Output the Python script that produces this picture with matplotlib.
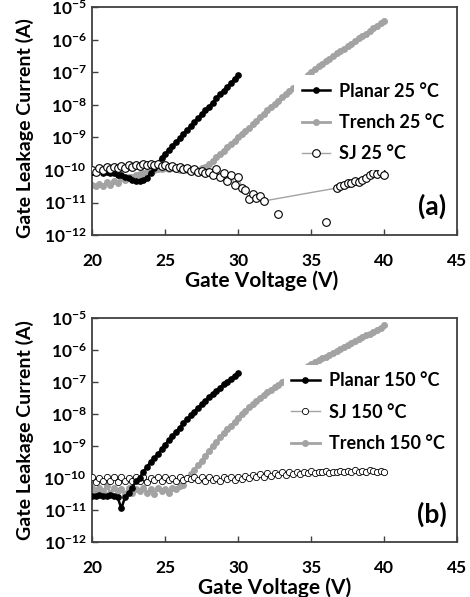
import numpy as np
import matplotlib
matplotlib.use("Agg")
import matplotlib.pyplot as plt

plt.rcParams['font.family'] = ['Lato', 'DejaVu Sans']
plt.rcParams['font.weight'] = 'bold'
plt.rcParams['mathtext.fontset'] = 'custom'
plt.rcParams['mathtext.rm'] = 'Lato'
plt.rcParams['mathtext.bf'] = 'Lato:bold'

# -------------------------------------------------------------
# Dados (log10 da corrente)
# (a) 25 °C
v_planar25 = np.arange(20, 30.01, 0.25)
log_planar25 = [-10.05, -10.05, -10.0, -10.1, -10.05, -10.1, -10.1, -10.15, -10.15, -10.2,
                -10.25, -10.3, -10.35, -10.35, -10.3, -10.25, -10.1, -9.95, -9.8, -9.62,
                -9.5, -9.38, -9.26, -9.14, -9.02, -8.89, -8.77, -8.65, -8.53, -8.41,
                -8.29, -8.17, -8.05, -7.93, -7.8, -7.68, -7.56, -7.44, -7.32, -7.2, -7.08]

v_trench25 = np.arange(20, 40.01, 0.25)
log_trench25 = [-10.45, -10.5, -10.42, -10.48, -10.38, -10.45, -10.35, -10.4, -10.25, -10.3,
                -10.2, -10.22, -10.15, -10.12, -10.08, -10.05, -10.02, -10.0, -9.98, -9.96,
                -9.95, -9.97, -9.95, -9.96, -10.0, -9.98, -10.0, -10.02, -10.0, -10.0,
                -9.95, -9.92, -9.82, -9.71, -9.6, -9.5, -9.4, -9.3, -9.2, -9.1,
                -9.0, -8.9, -8.8, -8.7, -8.6, -8.49, -8.38, -8.27, -8.16, -8.06,
                -7.97, -7.87, -7.77, -7.67, -7.57, -7.47, -7.37, -7.27, -7.17, -7.07,
                -6.98, -6.9, -6.82, -6.74, -6.66, -6.58, -6.5, -6.42, -6.35, -6.27,
                -6.2, -6.12, -6.04, -5.96, -5.89, -5.81, -5.73, -5.65, -5.58, -5.5, -5.42]

v_sj25 = np.concatenate([np.arange(20, 31.76, 0.25), np.arange(36.75, 40.01, 0.25)])
log_sj25 = [-10.0, -10.05, -9.95, -10.0, -9.92, -9.97, -9.9, -9.95, -9.88, -9.93,
            -9.85, -9.9, -9.83, -9.88, -9.82, -9.86, -9.8, -9.85, -9.8, -9.87,
            -9.85, -9.9, -9.88, -9.95, -9.92, -9.98, -9.95, -10.02, -9.98, -10.05,
            -10.02, -10.1, -10.05, -10.15, -9.98, -10.2, -10.1, -10.35, -10.15, -10.45,
            -10.2, -10.55, -10.62, -10.9, -10.75, -10.85, -10.8, -10.95,
            -10.55, -10.5, -10.45, -10.4, -10.4, -10.35, -10.38, -10.3, -10.25, -10.15,
            -10.1, -10.12, -10.05, -10.15]
v_sj25_out = [32.75, 36.0]
log_sj25_out = [-11.35, -11.6]

# (b) 150 °C
v_planar150 = np.arange(20, 30.01, 0.25)
log_planar150 = [-10.55, -10.55, -10.53, -10.55, -10.55, -10.53, -10.55, -10.6, -10.95, -10.6,
                 -10.45, -10.3, -10.1, -10.0, -9.8, -9.65, -9.5, -9.38, -9.25, -9.1,
                 -8.95, -8.82, -8.68, -8.55, -8.42, -8.28, -8.16, -8.04, -7.92, -7.8,
                 -7.69, -7.58, -7.47, -7.37, -7.27, -7.17, -7.07, -6.98, -6.89, -6.8, -6.7]

v_trench150 = np.arange(20, 40.01, 0.25)
log_trench150 = [-10.3, -10.45, -10.3, -10.4, -10.25, -10.45, -10.3, -10.4, -10.35, -10.5,
                 -10.3, -10.45, -10.35, -10.4, -10.3, -10.45, -10.35, -10.5, -10.3, -10.4,
                 -10.35, -10.45, -10.3, -10.35, -10.25, -10.2, -10.0, -9.88, -9.75, -9.6,
                 -9.45, -9.3, -9.15, -9.0, -8.87, -8.73, -8.6, -8.48, -8.36, -8.24,
                 -8.12, -8.0, -7.89, -7.78, -7.69, -7.6, -7.5, -7.41, -7.32, -7.24,
                 -7.16, -7.08, -7.0, -6.92, -6.85, -6.78, -6.71, -6.64, -6.57, -6.5,
                 -6.44, -6.38, -6.32, -6.26, -6.2, -6.14, -6.08, -6.02, -5.96, -5.9,
                 -5.84, -5.78, -5.72, -5.66, -5.6, -5.54, -5.48, -5.42, -5.36, -5.3, -5.22]

v_sj150 = np.arange(20, 40.01, 0.25)
log_sj150 = [-9.97, -10.12, -10.0, -10.08, -9.95, -10.1, -9.98, -10.12, -9.97, -10.08,
             -10.0, -10.1, -9.96, -10.08, -9.98, -10.12, -10.0, -10.05, -9.97, -10.1,
             -9.98, -10.06, -10.0, -10.1, -9.96, -10.05, -10.0, -10.02, -9.95, -10.05,
             -9.98, -10.1, -9.95, -10.05, -10.0, -10.08, -9.95, -10.04, -9.97, -10.05,
             -9.96, -10.02, -9.92, -10.0, -9.9, -9.98, -9.88, -9.95, -9.85, -9.92,
             -9.85, -9.9, -9.82, -9.9, -9.8, -9.88, -9.82, -9.86, -9.8, -9.85,
             -9.78, -9.84, -9.8, -9.82, -9.78, -9.83, -9.8, -9.82, -9.77, -9.8,
             -9.78, -9.8, -9.76, -9.8, -9.78, -9.8, -9.76, -9.78, -9.8, -9.77, -9.8]

decades = np.arange(-12, -4)
x_ticks = [20, 25, 30, 35, 40, 45]

# -------------------------------------------------------------
# Estilos
black = "black"
gray = "#a3a3a3"
frame_color = "#404040"


def style_axes(ax, tag, ylabel_y, xlabel_x):
    ax.set_yscale("log")
    ax.set_xlim(20, 45)
    ax.set_ylim(1e-12, 1e-5)
    ax.set_xticks(x_ticks)
    ax.set_yticks(10.0 ** decades)
    ax.set_yticklabels([r"$\mathbf{10^{%d}}$" % d for d in decades])
    ax.minorticks_off()
    ax.tick_params(axis="both", direction="in", length=4, width=1,
                   color=frame_color, labelsize=12.5)
    ax.tick_params(axis="x", pad=13)
    ax.tick_params(axis="y", pad=4)
    for lab in ax.get_xticklabels():
        lab.set_fontweight("bold")
    for sp in ax.spines.values():
        sp.set_color(frame_color)
        sp.set_linewidth(1.3)
    ax.set_xlabel("Gate Voltage (V)", fontsize=15, fontweight="bold", labelpad=1)
    ax.xaxis.label.set_x(xlabel_x)
    ax.set_ylabel("Gate Leakage Current (A)", fontsize=14, fontweight="bold")
    ax.yaxis.set_label_coords(-0.158, ylabel_y)
    ax.text(0.93, 0.125, tag, transform=ax.transAxes, fontsize=19,
            fontweight="bold", ha="center", va="center")


def add_legend(ax, order, y_anchor):
    h, l = ax.get_legend_handles_labels()
    leg = ax.legend([h[i] for i in order], [l[i] for i in order],
                    loc="upper right", bbox_to_anchor=(1.0, y_anchor),
                    frameon=True, framealpha=1, edgecolor="none", fancybox=False,
                    prop={"weight": "bold", "size": 13}, handlelength=1.6,
                    handletextpad=0.5, labelspacing=0.8, borderaxespad=0.3)
    leg.set_zorder(5)


fig = plt.figure(figsize=(4.70, 5.97), dpi=100)
ax1 = fig.add_axes([0.196, 0.606, 0.777, 0.382])
ax2 = fig.add_axes([0.196, 0.092, 0.777, 0.375])

# (a)
ax1.plot(v_trench25, 10.0 ** np.array(log_trench25), "-o", color=gray, ms=4,
         lw=2, label="Trench 25 °C", zorder=2)
ax1.plot(v_planar25, 10.0 ** np.array(log_planar25), "-o", color=black, ms=3.8,
         lw=1.8, label="Planar 25 °C", zorder=3)
ax1.plot(v_sj25, 10.0 ** np.array(log_sj25), "-o", color=gray, lw=1,
         mfc="white", mec=black, mew=0.8, ms=5.5, label="SJ 25 °C", zorder=4)
ax1.plot(v_sj25_out, 10.0 ** np.array(log_sj25_out), "o", mfc="white",
         mec=black, mew=0.8, ms=5.5, zorder=4)
style_axes(ax1, "(a)", 0.47, 0.465)
add_legend(ax1, [1, 0, 2], 0.725)

# (b)
ax2.plot(v_trench150, 10.0 ** np.array(log_trench150), "-o", color=gray, ms=4,
         lw=2, label="Trench 150 °C", zorder=2)
ax2.plot(v_sj150, 10.0 ** np.array(log_sj150), "-o", color=gray, lw=1,
         mfc="white", mec=black, mew=0.6, ms=4.5, label="SJ 150 °C", zorder=3)
ax2.plot(v_planar150, 10.0 ** np.array(log_planar150), "-o", color=black, ms=3.8,
         lw=1.8, label="Planar 150 °C", zorder=4)
style_axes(ax2, "(b)", 0.5, 0.5)
add_legend(ax2, [2, 1, 0], 0.815)

fig.savefig("out.png", dpi=100)
plt.close(fig)
